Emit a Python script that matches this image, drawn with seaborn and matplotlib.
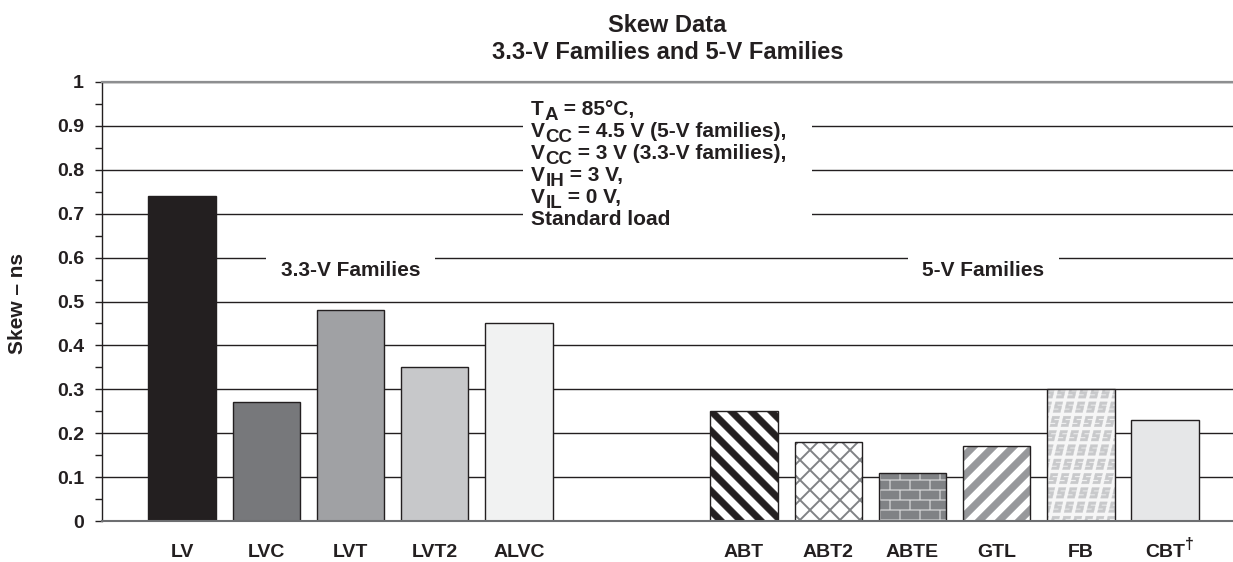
import warnings

import numpy as np
import pandas as pd
import matplotlib
matplotlib.use("Agg")
import matplotlib.pyplot as plt
import matplotlib.hatch as mhatch
from matplotlib.path import Path
from matplotlib.colors import to_rgba
from matplotlib.patches import Rectangle
from matplotlib.ticker import MultipleLocator
import seaborn as sns

warnings.filterwarnings("ignore", message=".*hatch must consist.*")

# ---------------------------------------------------------------- data
families_33 = ["LV", "LVC", "LVT", "LVT2", "ALVC"]
families_5 = ["ABT", "ABT2", "ABTE", "GTL", "FB", "CBT"]
skew_33 = [0.74, 0.27, 0.48, 0.35, 0.45]
skew_5 = [0.25, 0.18, 0.11, 0.17, 0.30, 0.23]
tick_labels = ["LV", "LVC", "LVT", "LVT2", "ALVC",
               "ABT", "ABT2", "ABTE", "GTL", "FB", "CBT"]
footnote_marks = {"CBT": "†"}
y_ticks = [0, 0.1, 0.2, 0.3, 0.4, 0.5, 0.6, 0.7, 0.8, 0.9, 1.0]
# (symbol, subscript, remainder) for each test-condition line
conditions = [
    ("T", "A", " = 85°C,"),
    ("V", "CC", " = 4.5 V (5-V families),"),
    ("V", "CC", " = 3 V (3.3-V families),"),
    ("V", "IH", " = 3 V,"),
    ("V", "IL", " = 0 V,"),
    ("Standard load", "", ""),
]

# ---------------------------------------------------------------- styling
INK = "#231f20"
fill_colors = ["#231f20", "#77787b", "#a0a1a4", "#c7c8ca", "#f1f2f2",
               "#ffffff", "#ffffff", "#d4d5d6", "#ffffff", "#f6f6f6", "#e6e7e8"]
hatches = [None, None, None, None, None, "D", "k", "b", "U", "s", None]
hatch_colors = [None, None, None, None, None,
                INK, "#808285", "#808285", "#97989b", "#c8c9cb", None]


# Fill-based hatch tiles (one 72 pt tile, unit square coordinates)
class _FilledTiles(mhatch.HatchPatternBase):
    symbol = "?"

    def __init__(self, hatch, density):
        self.polys = self.build() if (hatch and self.symbol in hatch) else []
        self.num_vertices = sum(len(p) + 1 for p in self.polys)

    def build(self):
        return []

    def set_vertices_and_codes(self, vertices, codes):
        i = 0
        for poly in self.polys:
            n = len(poly)
            vertices[i:i + n] = poly
            vertices[i + n] = poly[0]
            codes[i] = Path.MOVETO
            codes[i + 1:i + n] = Path.LINETO
            codes[i + n] = Path.CLOSEPOLY
            i += n + 1


def _band(rising, c, h):
    if rising:  # y = x + c
        pts = [(-0.1, -0.1 + c - h), (1.1, 1.1 + c - h),
               (1.1, 1.1 + c + h), (-0.1, -0.1 + c + h)]
    else:       # y = -x + c
        pts = [(-0.1, 0.1 + c - h), (1.1, -1.1 + c - h),
               (1.1, -1.1 + c + h), (-0.1, 0.1 + c + h)]
    return np.array(pts, dtype=float)


class ThickFalling(_FilledTiles):
    symbol = "D"

    def build(self):
        return [_band(False, k / 5, 0.046) for k in range(-1, 12)]


class ThickRising(_FilledTiles):
    symbol = "U"

    def build(self):
        return [_band(True, k / 5, 0.048) for k in range(-6, 7)]


class ThinCross(_FilledTiles):
    symbol = "k"

    def build(self):
        return ([_band(True, k / 5, 0.011) for k in range(-6, 7)]
                + [_band(False, k / 5, 0.011) for k in range(-1, 12)])


class Bricks(_FilledTiles):
    symbol = "b"

    def build(self):
        rows, cols, g = 10, 5, 0.009
        polys = []
        for r in range(rows):
            y0, y1 = r / rows + g, (r + 1) / rows - g
            shift = 0.5 / cols if r % 2 else 0.0
            for c in range(-1, cols + 1):
                x0 = c / cols + shift + g
                x1 = (c + 1) / cols + shift - g
                polys.append(np.array([(x0, y0), (x1, y0), (x1, y1), (x0, y1)]))
        return polys


S_OUTLINE = np.array([(1, 1), (0, 1), (0, 0.375), (0.65, 0.375), (0.65, 0.25),
                      (0, 0.25), (0, 0), (1, 0), (1, 0.625), (0.35, 0.625),
                      (0.35, 0.75), (1, 0.75)], dtype=float)


class SGlyphs(_FilledTiles):
    symbol = "s"

    def build(self):
        cols, rows = 9, 7
        sw, sh = 0.072, 0.105
        polys = []
        for r in range(rows):
            shift = r * 2 / 63
            for c in range(-3, cols + 2):
                shape = S_OUTLINE.copy()
                shape[:, 0] += 0.35 * (shape[:, 1] - 0.5)
                x = c / cols + shift + (1 / cols - sw) / 2 + shape[:, 0] * sw
                y = r / rows + (1 / rows - sh) / 2 + shape[:, 1] * sh
                polys.append(np.column_stack([x, y]))
        return polys


mhatch._hatch_types.extend([ThickFalling, ThickRising, ThinCross, Bricks, SGlyphs])

# ---------------------------------------------------------------- theme
sns.set_theme(style="white")
plt.rcParams.update({
    "font.family": ["Liberation Sans", "DejaVu Sans"],
    "font.weight": "bold",
    "axes.labelweight": "bold",
    "text.color": INK,
    "axes.labelcolor": INK,
    "xtick.color": INK,
    "ytick.color": INK,
    "hatch.linewidth": 0.3,
})

# ---------------------------------------------------------------- layout
group_gap = 1.67
pos_33 = [float(i) for i in range(len(families_33))]
pos_5 = [pos_33[-1] + 1 + group_gap + i for i in range(len(families_5))]

df = pd.DataFrame({
    "family": families_33 + families_5,
    "skew": skew_33 + skew_5,
    "pos": pos_33 + pos_5,
})
positions = df["pos"].tolist()
palette = dict(zip(df["family"], fill_colors))

fig = plt.figure(figsize=(12.33, 5.62), dpi=100)
ax = fig.add_axes([102 / 1233, 1 - 521 / 562, 1131 / 1233, 439 / 562])

sns.barplot(data=df, x="pos", y="skew", hue="family", palette=palette,
            native_scale=True, width=0.8, saturation=1, errorbar=None,
            edgecolor=INK, linewidth=1.0, legend=False, ax=ax, zorder=2)

# patterns for the 5-V family bars
for patch in ax.patches:
    cx = patch.get_x() + patch.get_width() / 2
    idx = int(np.argmin([abs(cx - p) for p in positions]))
    if hatches[idx]:
        patch.set_hatch(hatches[idx])
        patch._hatch_color = to_rgba(hatch_colors[idx])

ax.set_xlim(-0.95, 12.475)
ax.set_ylim(0, 1)
ax.set_xticks(positions, labels=tick_labels)
ax.set_yticks(y_ticks, labels=[f"{t:g}" for t in y_ticks])
ax.yaxis.set_minor_locator(MultipleLocator(0.05))
ax.tick_params(axis="y", which="both", direction="out", length=5, width=1,
               color=INK, pad=8, labelsize=14, left=True)
ax.tick_params(axis="x", length=0, pad=16.5, labelsize=14)
ax.set_xlabel("")
ax.set_ylabel("")

# footnote dagger after a tick label
for name, mark in footnote_marks.items():
    xpos = positions[tick_labels.index(name)]
    ax.annotate(mark, xy=(xpos, 0), xycoords=("data", "axes fraction"),
                xytext=(14, -11.5), textcoords="offset points",
                fontsize=11.5, fontweight="bold", ha="left", va="top",
                annotation_clip=False)

ax.set_axisbelow(True)
ax.yaxis.grid(True, which="major", color=INK, linewidth=1.0)
ax.xaxis.grid(False)

ax.spines["left"].set_color(INK)
ax.spines["left"].set_linewidth(1.0)
ax.spines["top"].set_color("#8d8e90")
ax.spines["top"].set_linewidth(1.6)
ax.spines["bottom"].set_color("#6d6e71")
ax.spines["bottom"].set_linewidth(1.5)
ax.spines["right"].set_visible(False)

# test-condition block
ax.add_patch(Rectangle((0.372, 0.617), 0.256, 0.353, transform=ax.transAxes,
                       facecolor="white", edgecolor="none", zorder=1.5))
for i, (symbol, sub, rest) in enumerate(conditions):
    head = ax.text(0.3793, 0.925 - 0.05 * i, symbol,
                   transform=ax.get_yaxis_transform(), fontsize=15,
                   fontweight="bold", ha="left", va="baseline", zorder=3)
    if sub:
        sub_txt = ax.annotate(sub, xy=(1, 0), xycoords=head, xytext=(0.3, -3.6),
                              textcoords="offset points", fontsize=13.5,
                              fontweight="bold", ha="left", va="bottom", zorder=3)
        ax.annotate(rest, xy=(1, 0), xycoords=(sub_txt, head), xytext=(0, 0),
                    textcoords="offset points", fontsize=15, fontweight="bold",
                    ha="left", va="bottom", zorder=3)

# family group labels
group_box = dict(boxstyle="square,pad=0.7", facecolor="white", edgecolor="none")
ax.text(np.mean(pos_33), 0.559, "3.3-V Families", fontsize=15, fontweight="bold",
        ha="center", va="baseline", bbox=group_box, zorder=3)
ax.text(9.51, 0.559, "5-V Families", fontsize=15, fontweight="bold",
        ha="center", va="baseline", bbox=group_box, zorder=3)

# titles and axis label
fig.text(667.5 / 1233, 1 - 31.7 / 562, "Skew Data", fontsize=17,
         fontweight="bold", ha="center", va="baseline")
fig.text(667.5 / 1233, 1 - 59.3 / 562, "3.3-V Families and 5-V Families",
         fontsize=17, fontweight="bold", ha="center", va="baseline")
fig.text(18 / 1233, 1 - 303 / 562, "Skew – ns", fontsize=15, fontweight="bold",
         rotation=90, ha="center", va="center")

fig.savefig("out.png", dpi=100)
